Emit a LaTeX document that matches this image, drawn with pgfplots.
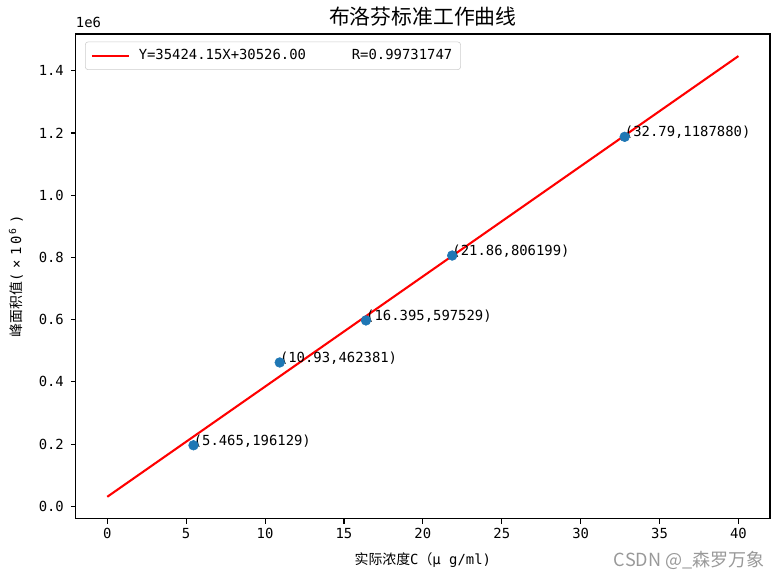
\documentclass[border=0pt]{standalone}
\usepackage{fontspec}
\setmainfont{DejaVu Sans Mono}
\newfontfamily\cjk{Noto Sans CJK SC}
\usepackage{pgfplots}
\pgfplotsset{compat=1.18}
\definecolor{mplblue}{HTML}{1F77B4}
\begin{document}
\begin{tikzpicture}
\useasboundingbox (-54.5pt,-43.2pt) rectangle (507pt,373.5pt);
\begin{axis}[
  at={(0,0)}, anchor=south west, scale only axis,
  width=499.8pt, height=349pt,
  xmin=-2, xmax=42, ymin=-40322, ymax=1518340,
  xtick={0,5,...,40},
  ytick={0,200000,400000,600000,800000,1000000,1200000,1400000},
  yticklabels={0.0,0.2,0.4,0.6,0.8,1.0,1.2,1.4},
  scaled y ticks=false,
  xtick pos=bottom, ytick pos=left,
  tick align=outside, major tick length=3.5pt,
  tick style={black, line width=0.8pt},
  axis line style={line width=0.8pt},
  /pgf/number format/assume math mode=true,
  tick label style={font=\fontsize{10}{12}\selectfont},
  yticklabel style={xshift=-1.5pt},
  xlabel={{\cjk 实际浓度}C{\cjk （}μ g/ml)},
  xlabel style={font=\fontsize{10}{12}\selectfont, at={(axis description cs:0.5,0)}, anchor=base, yshift=-33pt},
  ylabel={{\cjk 峰面积值}(\hspace{3.5pt}×\hspace{3.5pt}1\hspace{2pt}0\hspace{1pt}\textsuperscript{6}\hspace{3pt})},
  ylabel style={font=\fontsize{10}{12}\selectfont, at={(axis description cs:0,0.5)}, anchor=center, yshift=43pt},
  legend style={at={(axis description cs:0,1)}, anchor=north west, xshift=6.7pt, yshift=-5.5pt,
    draw=black!20, rounded corners=2pt, font=\fontsize{10}{12}\selectfont, inner xsep=4pt, inner ysep=3.5pt},
  legend cell align=left,
  legend image code/.code={\draw[#1] (0pt,0pt) -- (27pt,0pt);},
  clip=false,
]
\addplot[only marks, mark=*, mark size=3.5pt, mark options={fill=mplblue, draw=mplblue}, forget plot] coordinates {
  (5.465,196129) (10.93,462381) (16.395,597529) (21.86,806199) (32.79,1187880)
};
\addplot[red, line width=1.5pt] coordinates {(0,30526) (40,1447492)};
\addlegendentry{\hspace{4pt}Y=35424.15X+30526.00\hspace{33pt}R=0.99731747}
\node[anchor=base west, inner sep=0pt, font=\fontsize{10}{12}\selectfont] at (axis cs:5.465,196129) {(5.465,196129)};
\node[anchor=base west, inner sep=0pt, font=\fontsize{10}{12}\selectfont] at (axis cs:10.93,462381) {(10.93,462381)};
\node[anchor=base west, inner sep=0pt, font=\fontsize{10}{12}\selectfont] at (axis cs:16.395,597529) {(16.395,597529)};
\node[anchor=base west, inner sep=0pt, font=\fontsize{10}{12}\selectfont] at (axis cs:21.86,806199) {(21.86,806199)};
\node[anchor=base west, inner sep=0pt, font=\fontsize{10}{12}\selectfont] at (axis cs:32.79,1187880) {(32.79,1187880)};
\node[anchor=base west, inner sep=0pt, font=\fontsize{10}{12}\selectfont] at (rel axis cs:0,1) [yshift=5pt] {1e6};
\node[anchor=base, inner sep=0pt, font=\cjk\fontsize{15}{17}\selectfont] at (rel axis cs:0.5,1) [yshift=7pt] {布洛芬标准工作曲线};
\node[anchor=base east, inner sep=0pt, font=\cjk\fontsize{13}{15}\selectfont, text=black!40] at (rel axis cs:1,0) [xshift=-3.6pt, yshift=-34.5pt] {CSDN @\_森罗万象};
\end{axis}
\end{tikzpicture}
\end{document}
